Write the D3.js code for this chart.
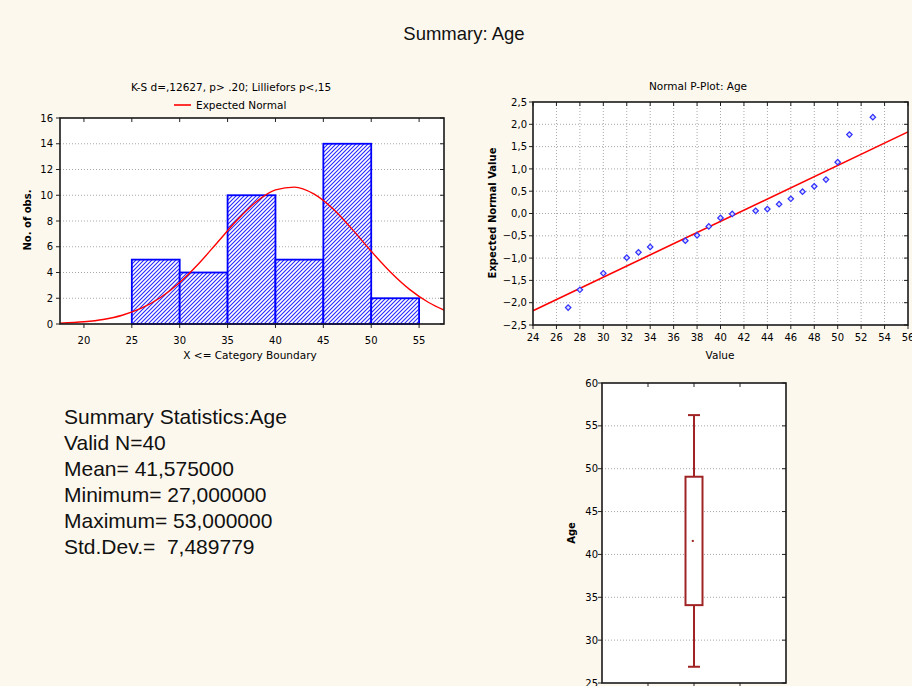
<!DOCTYPE html>
<html>
<head>
<meta charset="utf-8">
<script src="https://cdn.jsdelivr.net/npm/d3@7"></script>
<style>
  body { margin: 0; background: #fdf8ee; }
  svg { display: block; }
  .small { font-family: "DejaVu Sans", sans-serif; font-size: 10px; fill: #000; }
  .label { font-family: "DejaVu Sans", sans-serif; font-size: 10.5px; fill: #000; }
  .grid line { stroke: #a8a8a8; stroke-width: 1; stroke-dasharray: 1,2; }
</style>
</head>
<body>
<div id="chart"></div>
<script>
// Summary: Age — histogram, normal p-plot, box plot and stats text

const W = 912, H = 686;

// histogram data
const binEdges = [25, 30, 35, 40, 45, 50, 55];
const binCounts = [5, 4, 10, 5, 14, 2];
const histXTicks = [20, 25, 30, 35, 40, 45, 50, 55];
const histYTicks = [0, 2, 4, 6, 8, 10, 12, 14, 16];

// expected normal curve
const normalX = [17.5, 20, 22, 24, 26, 28, 30, 32, 34, 36, 38, 40, 42, 44, 46, 48, 50, 52, 54, 56, 57.6];
const normalY = [0.06, 0.17, 0.35, 0.68, 1.23, 2.06, 3.23, 4.70, 6.39, 8.07, 9.50, 10.42, 10.63, 10.10, 8.95, 7.37, 5.65, 4.04, 2.69, 1.67, 1.08];

// normal p-plot data
const ppValues = [27, 28, 30, 32, 33, 34, 37, 38, 39, 40, 41, 43, 44, 45, 46, 47, 48, 49, 50, 51, 53];
const ppExpected = [-2.11, -1.71, -1.34, -0.99, -0.87, -0.75, -0.61, -0.49, -0.29, -0.10, -0.01, 0.06, 0.10, 0.21, 0.33, 0.49, 0.61, 0.76, 1.15, 1.77, 2.16];
const ppLineX = [24, 56];
const ppLineY = [-2.18, 1.83];
const ppXTicks = [24, 26, 28, 30, 32, 34, 36, 38, 40, 42, 44, 46, 48, 50, 52, 54, 56];
const ppYTicks = [-2.5, -2.0, -1.5, -1.0, -0.5, 0.0, 0.5, 1.0, 1.5, 2.0, 2.5];

// box plot data (mean, ±SD, ±1.96*SD)
const boxMean = 41.575;
const boxRange = [34.085, 49.065];
const whiskerRange = [26.895, 56.255];
const boxYTicks = [25, 30, 35, 40, 45, 50, 55, 60];
const boxXTicks = [0.25, 0.5, 0.75];

// summary text
const statLines = [
  "Summary Statistics:Age",
  "Valid N=40",
  "Mean= 41,575000",
  "Minimum= 27,000000",
  "Maximum= 53,000000",
  "Std.Dev.=  7,489779"
];

const commaFmt = d => d3.format(".1f")(d).replace(".", ",");

const svg = d3.select("#chart").append("svg")
  .attr("width", W).attr("height", H);

svg.append("rect").attr("width", W).attr("height", H).attr("fill", "#fdf8ee");

// hatch pattern for the bars
const defs = svg.append("defs");
const pat = defs.append("pattern")
  .attr("id", "hatch")
  .attr("patternUnits", "userSpaceOnUse")
  .attr("width", 4).attr("height", 4);
pat.append("rect").attr("width", 4).attr("height", 4).style("fill", "#ffffff");
pat.append("path")
  .attr("d", "M-1,1 l2,-2 M0,4 l4,-4 M3,5 l2,-2")
  .style("stroke", "#2828ff")
  .style("stroke-width", 1.1)
  .style("fill", "none");

// main title
svg.append("text")
  .attr("x", 464).attr("y", 40)
  .attr("text-anchor", "middle")
  .style("font-family", "Liberation Sans, Arial, sans-serif")
  .style("font-size", "18.5px")
  .style("fill", "#111")
  .text("Summary: Age");

// plot area + grid group
function drawFrame(g, x0, x1, y0, y1) {
  g.append("rect")
    .attr("x", x0).attr("y", y0)
    .attr("width", x1 - x0).attr("height", y1 - y0)
    .attr("fill", "#fff");
  return g.append("g").attr("class", "grid");
}

// border and ticks (left/bottom outward, top/right inward)
function finishFrame(g, x0, x1, y0, y1, xTickPos, yTickPos) {
  const t = g.append("g").attr("stroke", "#222").attr("stroke-width", 1);
  xTickPos.forEach(x => {
    t.append("line").attr("x1", x).attr("x2", x).attr("y1", y0).attr("y2", y0 + 4);
    t.append("line").attr("x1", x).attr("x2", x).attr("y1", y1).attr("y2", y1 + 4);
  });
  yTickPos.forEach(y => {
    t.append("line").attr("x1", x0 - 4).attr("x2", x0).attr("y1", y).attr("y2", y);
    t.append("line").attr("x1", x1 - 4).attr("x2", x1).attr("y1", y).attr("y2", y);
  });
  g.append("rect")
    .attr("x", x0).attr("y", y0)
    .attr("width", x1 - x0).attr("height", y1 - y0)
    .attr("fill", "none")
    .attr("stroke", "#1a1a1a")
    .attr("stroke-width", 1.6);
}

// ---------- histogram ----------
{
  const x0 = 60, x1 = 444, y0 = 118, y1 = 324;
  const x = d3.scaleLinear().domain([17.5, 57.6]).range([x0, x1]);
  const y = d3.scaleLinear().domain([0, 16]).range([y1, y0]);
  const g = svg.append("g");

  const grid = drawFrame(g, x0, x1, y0, y1);
  grid.selectAll("line").data(histYTicks.filter(d => d > 0 && d < 16)).enter()
    .append("line")
    .attr("x1", x0).attr("x2", x1)
    .attr("y1", d => y(d)).attr("y2", d => y(d));

  defs.append("clipPath").attr("id", "histClip")
    .append("rect").attr("x", x0).attr("y", y0).attr("width", x1 - x0).attr("height", y1 - y0);

  const bins = binCounts.map((c, i) => ({ lo: binEdges[i], hi: binEdges[i + 1], c }));
  g.selectAll(".bar").data(bins).enter()
    .append("rect")
    .attr("class", "bar")
    .attr("x", d => x(d.lo))
    .attr("y", d => y(d.c))
    .attr("width", d => x(d.hi) - x(d.lo))
    .attr("height", d => y(0) - y(d.c))
    .style("fill", "url(#hatch)")
    .attr("stroke", "#0000ff")
    .attr("stroke-width", 1.8);

  const line = d3.line()
    .x((d, i) => x(normalX[i]))
    .y(d => y(d))
    .curve(d3.curveMonotoneX);
  g.append("path")
    .attr("clip-path", "url(#histClip)")
    .attr("d", line(normalY))
    .attr("fill", "none")
    .attr("stroke", "#ff0000")
    .attr("stroke-width", 1.4);

  finishFrame(g, x0, x1, y0, y1, histXTicks.map(x), histYTicks.map(y));

  g.selectAll(".xl").data(histXTicks).enter().append("text")
    .attr("class", "small")
    .attr("x", d => x(d)).attr("y", 344)
    .attr("text-anchor", "middle")
    .text(d => d);
  g.selectAll(".yl").data(histYTicks).enter().append("text")
    .attr("class", "small")
    .attr("x", 53).attr("y", d => y(d) + 3.6)
    .attr("text-anchor", "end")
    .text(d => d);

  g.append("text").attr("class", "label")
    .attr("x", 231).attr("y", 91)
    .attr("text-anchor", "middle")
    .text("K-S d=,12627, p> .20; Lilliefors p<,15");
  g.append("line")
    .attr("x1", 174).attr("x2", 191).attr("y1", 105).attr("y2", 105)
    .attr("stroke", "#ff0000").attr("stroke-width", 1.6);
  g.append("text").attr("class", "label")
    .attr("x", 196).attr("y", 108.5)
    .text("Expected Normal");

  g.append("text").attr("class", "label")
    .attr("x", 250).attr("y", 359)
    .attr("text-anchor", "middle")
    .text("X <= Category Boundary");
  g.append("text").attr("class", "small")
    .attr("transform", "translate(31,220) rotate(-90)")
    .attr("text-anchor", "middle")
    .style("font-weight", "bold")
    .text("No. of obs.");
}

// ---------- normal p-plot ----------
{
  const x0 = 533, x1 = 908, y0 = 102, y1 = 325;
  const x = d3.scaleLinear().domain([24, 56]).range([x0, x1]);
  const y = d3.scaleLinear().domain([-2.5, 2.5]).range([y1, y0]);
  const g = svg.append("g");

  const grid = drawFrame(g, x0, x1, y0, y1);
  grid.selectAll(".h").data(ppYTicks.slice(1, -1)).enter()
    .append("line")
    .attr("x1", x0).attr("x2", x1)
    .attr("y1", d => y(d)).attr("y2", d => y(d));
  grid.selectAll(".v").data(ppXTicks.slice(1, -1)).enter()
    .append("line")
    .attr("y1", y0).attr("y2", y1)
    .attr("x1", d => x(d)).attr("x2", d => x(d));

  g.append("line")
    .attr("x1", x(ppLineX[0])).attr("y1", y(ppLineY[0]))
    .attr("x2", x(ppLineX[1])).attr("y2", y(ppLineY[1]))
    .attr("stroke", "#ff0000")
    .attr("stroke-width", 1.6);

  // small diamonds = squares turned 45 degrees
  const sym = d3.symbol().type(d3.symbolSquare).size(15);
  g.selectAll(".pt").data(ppValues).enter()
    .append("path")
    .attr("transform", (d, i) => `translate(${x(d)},${y(ppExpected[i])}) rotate(45)`)
    .attr("d", sym)
    .attr("fill", "#dcdcff")
    .attr("stroke", "#3030ff")
    .attr("stroke-width", 1.2);

  finishFrame(g, x0, x1, y0, y1, ppXTicks.map(x), ppYTicks.map(y));

  g.selectAll(".xl").data(ppXTicks).enter().append("text")
    .attr("class", "small")
    .attr("x", d => x(d)).attr("y", 341)
    .attr("text-anchor", "middle")
    .text(d => d);
  g.selectAll(".yl").data(ppYTicks).enter().append("text")
    .attr("class", "small")
    .attr("x", 527).attr("y", d => y(d) + 3.6)
    .attr("text-anchor", "end")
    .text(d => commaFmt(d));

  g.append("text").attr("class", "label")
    .attr("x", 698).attr("y", 90)
    .attr("text-anchor", "middle")
    .text("Normal P-Plot: Age");
  g.append("text").attr("class", "label")
    .attr("x", 720).attr("y", 359)
    .attr("text-anchor", "middle")
    .text("Value");
  g.append("text").attr("class", "small")
    .attr("transform", "translate(496,213) rotate(-90)")
    .attr("text-anchor", "middle")
    .style("font-weight", "bold")
    .text("Expected Normal Value");
}

// ---------- box plot ----------
{
  const x0 = 602, x1 = 786, y0 = 383, y1 = 683;
  const x = d3.scaleLinear().domain([0, 1]).range([x0, x1]);
  const y = d3.scaleLinear().domain([25, 60]).range([y1, y0]);
  const g = svg.append("g");
  const boxColor = "#a02424";

  const grid = drawFrame(g, x0, x1, y0, y1);
  grid.selectAll("line").data(boxYTicks.slice(1, -1)).enter()
    .append("line")
    .attr("x1", x0).attr("x2", x1)
    .attr("y1", d => y(d)).attr("y2", d => y(d));

  const cx = x(0.5);
  // whiskers
  g.append("line")
    .attr("x1", cx).attr("x2", cx)
    .attr("y1", y(whiskerRange[0])).attr("y2", y(boxRange[0]))
    .attr("stroke", boxColor).attr("stroke-width", 2);
  g.append("line")
    .attr("x1", cx).attr("x2", cx)
    .attr("y1", y(boxRange[1])).attr("y2", y(whiskerRange[1]))
    .attr("stroke", boxColor).attr("stroke-width", 2);
  whiskerRange.forEach(v => {
    g.append("line")
      .attr("x1", cx - 6).attr("x2", cx + 6)
      .attr("y1", y(v)).attr("y2", y(v))
      .attr("stroke", boxColor).attr("stroke-width", 2);
  });
  // box
  g.append("rect")
    .attr("x", cx - 8.5).attr("width", 17)
    .attr("y", y(boxRange[1])).attr("height", y(boxRange[0]) - y(boxRange[1]))
    .attr("fill", "#fff")
    .attr("stroke", boxColor).attr("stroke-width", 2);
  // mean point
  g.append("rect")
    .attr("x", cx - 2.2).attr("y", y(boxMean) - 1)
    .attr("width", 2).attr("height", 2)
    .attr("fill", boxColor);

  finishFrame(g, x0, x1, y0, y1, boxXTicks.map(x), boxYTicks.map(y));

  g.selectAll(".yl").data(boxYTicks).enter().append("text")
    .attr("class", "small")
    .attr("x", 598).attr("y", d => y(d) + 3.6)
    .attr("text-anchor", "end")
    .text(d => d);

  g.append("text").attr("class", "small")
    .attr("transform", "translate(575,533) rotate(-90)")
    .attr("text-anchor", "middle")
    .style("font-weight", "bold")
    .text("Age");
}

// ---------- summary statistics text ----------
svg.append("g").selectAll("text").data(statLines).enter()
  .append("text")
  .attr("x", 64)
  .attr("y", (d, i) => 424 + i * 26)
  .style("font-family", "Liberation Sans, Arial, sans-serif")
  .style("font-size", "21px")
  .style("fill", "#111")
  .style("white-space", "pre")
  .text(d => d);
</script>
</body>
</html>
